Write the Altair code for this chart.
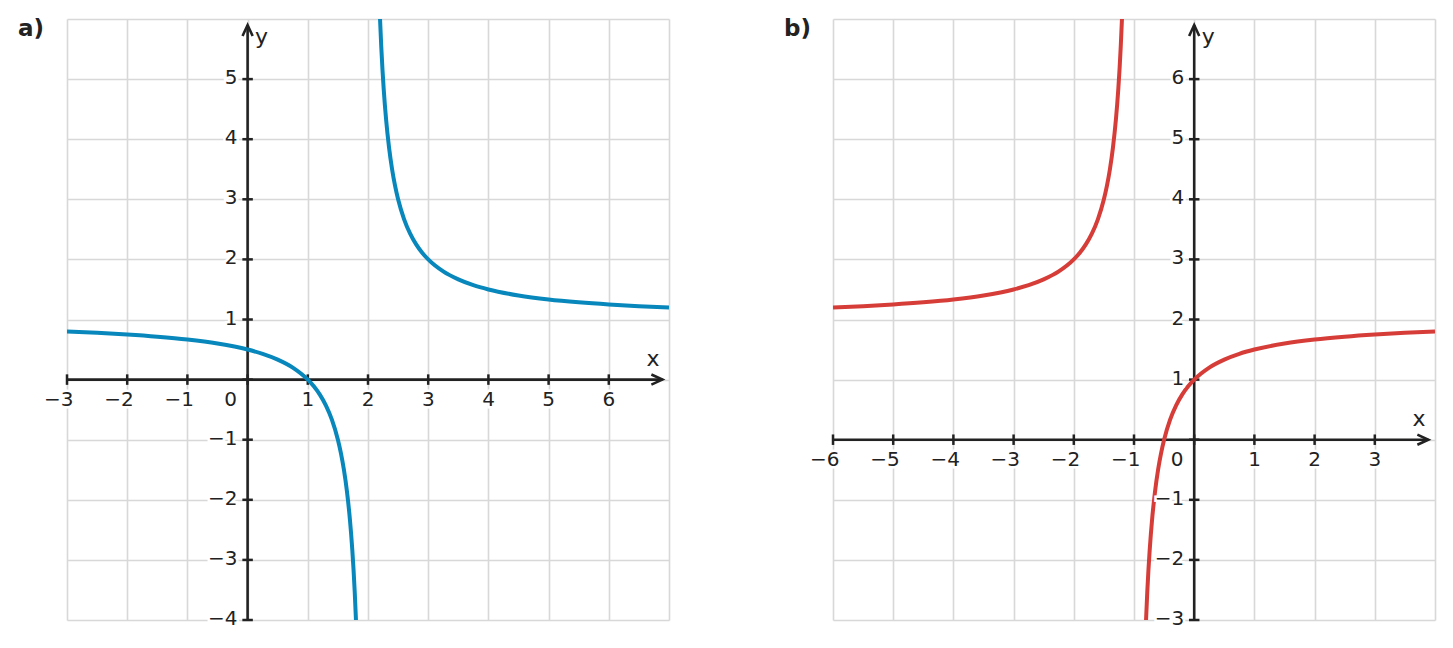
import altair as alt
import pandas as pd

# ---------------- data ----------------
# panel a) : blue curve, two branches
a_left_x = [-3, -2.5, -2, -1.5, -1, -0.5, 0, 0.25, 0.5, 0.75, 1, 1.1, 1.2, 1.3, 1.4, 1.5,
            1.55, 1.6, 1.65, 1.7, 1.72, 1.74, 1.76, 1.78, 1.8, 1.81]
a_left_y = [0.8, 0.778, 0.75, 0.714, 0.667, 0.6, 0.5, 0.429, 0.333, 0.2, 0, -0.111, -0.25,
            -0.429, -0.667, -1, -1.222, -1.5, -1.857, -2.333, -2.571, -2.846, -3.167,
            -3.545, -4, -4.263]
a_right_x = [2.19, 2.2, 2.22, 2.24, 2.26, 2.28, 2.3, 2.35, 2.4, 2.45, 2.5, 2.6, 2.7, 2.8,
             2.9, 3, 3.25, 3.5, 3.75, 4, 4.5, 5, 5.5, 6, 6.5, 7]
a_right_y = [6.263, 6, 5.545, 5.167, 4.846, 4.571, 4.333, 3.857, 3.5, 3.222, 3, 2.667,
             2.429, 2.25, 2.111, 2, 1.8, 1.667, 1.571, 1.5, 1.4, 1.333, 1.286, 1.25,
             1.222, 1.2]

# panel b) : red curve, two branches
b_left_x = [-6, -5.5, -5, -4.5, -4, -3.5, -3, -2.75, -2.5, -2.25, -2, -1.9, -1.8, -1.7,
            -1.6, -1.5, -1.45, -1.4, -1.35, -1.3, -1.28, -1.26, -1.24, -1.22, -1.2, -1.19]
b_left_y = [2.2, 2.222, 2.25, 2.286, 2.333, 2.4, 2.5, 2.571, 2.667, 2.8, 3, 3.111, 3.25,
            3.429, 3.667, 4, 4.222, 4.5, 4.857, 5.333, 5.571, 5.846, 6.167, 6.545, 7, 7.263]
b_right_x = [-0.81, -0.8, -0.78, -0.76, -0.74, -0.72, -0.7, -0.65, -0.6, -0.55, -0.5, -0.4,
             -0.3, -0.2, -0.1, 0, 0.25, 0.5, 0.75, 1, 1.5, 2, 2.5, 3, 3.5, 4]
b_right_y = [-3.263, -3, -2.545, -2.167, -1.846, -1.571, -1.333, -0.857, -0.5, -0.222, 0,
             0.333, 0.571, 0.75, 0.889, 1, 1.2, 1.333, 1.429, 1.5, 1.6, 1.667, 1.714,
             1.75, 1.778, 1.8]

# axes ranges / ticks
a_x_domain = [-3, 7]
a_y_domain = [-4, 6]
b_x_domain = [-6, 4]
b_y_domain = [-3, 7]

a_xticks = [-3, -2, -1, 0, 1, 2, 3, 4, 5, 6]
a_yticks = [-4, -3, -2, -1, 0, 1, 2, 3, 4, 5]
b_xticks = [-6, -5, -4, -3, -2, -1, 0, 1, 2, 3]
b_yticks = [-3, -2, -1, 0, 1, 2, 3, 4, 5, 6]

a_xlabels = ["−3", "−2", "−1", "1", "2", "3", "4", "5", "6"]
a_xlabel_vals = [-3, -2, -1, 1, 2, 3, 4, 5, 6]
a_ylabels = ["−4", "−3", "−2", "−1", "1", "2", "3", "4", "5"]
a_ylabel_vals = [-4, -3, -2, -1, 1, 2, 3, 4, 5]
b_xlabels = ["−6", "−5", "−4", "−3", "−2", "−1", "1", "2", "3"]
b_xlabel_vals = [-6, -5, -4, -3, -2, -1, 1, 2, 3]
b_ylabels = ["−3", "−2", "−1", "1", "2", "3", "4", "5", "6"]
b_ylabel_vals = [-3, -2, -1, 1, 2, 3, 4, 5, 6]

FONT = "DejaVu Sans"
AX = "#222222"
GRID = "#d8d8d8"
W, H = 602, 601
FS = 20


def panel(tag, xdom, ydom, lx, ly, rx, ry, color, xticks, yticks,
          xlv, xl, ylv, yl):
    xs = alt.Scale(domain=xdom, nice=False, zero=False)
    ys = alt.Scale(domain=ydom, nice=False, zero=False)
    xa = alt.Axis(values=list(range(xdom[0], xdom[1] + 1)), grid=True, gridColor=GRID,
                  gridWidth=1.6, labels=False, ticks=False, domain=False, title=None)
    ya = alt.Axis(values=list(range(ydom[0], ydom[1] + 1)), grid=True, gridColor=GRID,
                  gridWidth=1.6, labels=False, ticks=False, domain=False, title=None)

    def X(f):
        return alt.X(f, type="quantitative", scale=xs, axis=xa)

    def Y(f):
        return alt.Y(f, type="quantitative", scale=ys, axis=ya)

    xtip = xdom[1] - 0.11
    ytip = ydom[1] - 0.1

    curve = pd.DataFrame({
        "x": lx + rx,
        "y": ly + ry,
        "branch": ["l"] * len(lx) + ["r"] * len(rx),
    })
    line = alt.Chart(curve).mark_line(clip=True, strokeWidth=4, color=color,
                                      interpolate="monotone").encode(
        x=X("x"), y=Y("y"), detail="branch:N")

    xaxis = alt.Chart(pd.DataFrame({"a": [xdom[0]], "b": [xtip], "z": [0]})).mark_rule(
        color=AX, strokeWidth=2.6).encode(x=X("a"), x2="b", y=Y("z"))
    yaxis = alt.Chart(pd.DataFrame({"a": [ydom[0]], "b": [ytip], "z": [0]})).mark_rule(
        color=AX, strokeWidth=2.6).encode(y=Y("a"), y2="b", x=X("z"))

    xt = alt.Chart(pd.DataFrame({"v": xticks, "z": [0] * len(xticks)})).mark_point(
        shape="M0,-1L0,1", size=110, filled=False, stroke=AX, strokeWidth=2.5,
        opacity=1).encode(x=X("v"), y=Y("z"))
    yt = alt.Chart(pd.DataFrame({"v": yticks, "z": [0] * len(yticks)})).mark_point(
        shape="M-1,0L1,0", size=110, filled=False, stroke=AX, strokeWidth=2.5,
        opacity=1).encode(y=Y("v"), x=X("z"))

    arr_r = alt.Chart(pd.DataFrame({"a": [xtip], "z": [0]})).mark_point(
        shape="M-1,-0.46L0,0L-1,0.46", size=484, filled=False, stroke=AX,
        strokeWidth=2.6, opacity=1).encode(x=X("a"), y=Y("z"))
    arr_u = alt.Chart(pd.DataFrame({"a": [ytip], "z": [0]})).mark_point(
        shape="M-0.46,1L0,0L0.46,1", size=484, filled=False, stroke=AX,
        strokeWidth=2.6, opacity=1).encode(y=Y("a"), x=X("z"))

    xlab_df = pd.DataFrame({"v": xlv, "z": [0] * len(xlv), "t": xl})
    ylab_df = pd.DataFrame({"v": ylv, "z": [0] * len(ylv), "t": yl})
    zero_df = pd.DataFrame({"v": [0], "z": [0], "t": ["0"]})

    layers = [xaxis, yaxis, xt, yt, arr_r, arr_u, line]
    for halo in (True, False):
        kw = dict(font=FONT, fontSize=FS, color=AX)
        if halo:
            kw.update(stroke="white", strokeWidth=5, color="white")
        layers.append(alt.Chart(xlab_df).mark_text(align="right", baseline="middle",
                                                   dx=6.5, dy=20, **kw).encode(
            x=X("v"), y=Y("z"), text="t:N"))
        layers.append(alt.Chart(ylab_df).mark_text(align="right", baseline="middle",
                                                   dx=-10, dy=-1, **kw).encode(
            y=Y("v"), x=X("z"), text="t:N"))
        layers.append(alt.Chart(zero_df).mark_text(align="center", baseline="middle",
                                                   dx=-17, dy=20, **kw).encode(
            x=X("v"), y=Y("z"), text="t:N"))

    xname = alt.Chart(pd.DataFrame({"a": [xdom[1]], "z": [0], "t": ["x"]})).mark_text(
        font=FONT, fontSize=22, color=AX, align="center", baseline="middle",
        dx=-16, dy=-21).encode(x=X("a"), y=Y("z"), text="t:N")
    yname = alt.Chart(pd.DataFrame({"a": [ydom[1]], "z": [0], "t": ["y"]})).mark_text(
        font=FONT, fontSize=22, color=AX, align="center", baseline="middle",
        dx=14, dy=18).encode(y=Y("a"), x=X("z"), text="t:N")
    label = alt.Chart(pd.DataFrame({"t": [tag]})).mark_text(
        font=FONT, fontSize=23, fontWeight="bold", color=AX, align="left",
        baseline="middle").encode(x=alt.value(-49), y=alt.value(10), text="t:N")
    layers += [xname, yname, label]

    return alt.layer(*layers).properties(width=W, height=H)


pa = panel("a)", a_x_domain, a_y_domain, a_left_x, a_left_y, a_right_x, a_right_y,
           "#0787bb", a_xticks, a_yticks, a_xlabel_vals, a_xlabels, a_ylabel_vals,
           a_ylabels)
pb = panel("b)", b_x_domain, b_y_domain, b_left_x, b_left_y, b_right_x, b_right_y,
           "#d63d38", b_xticks, b_yticks, b_xlabel_vals, b_xlabels, b_ylabel_vals,
           b_ylabels)

chart = alt.hconcat(pa, pb, spacing=115).properties(
    padding={"left": 10, "top": 10, "right": 5, "bottom": 5}
).configure_view(stroke=None)

chart.save("out.html", embed_options={"renderer": "svg", "actions": False})
